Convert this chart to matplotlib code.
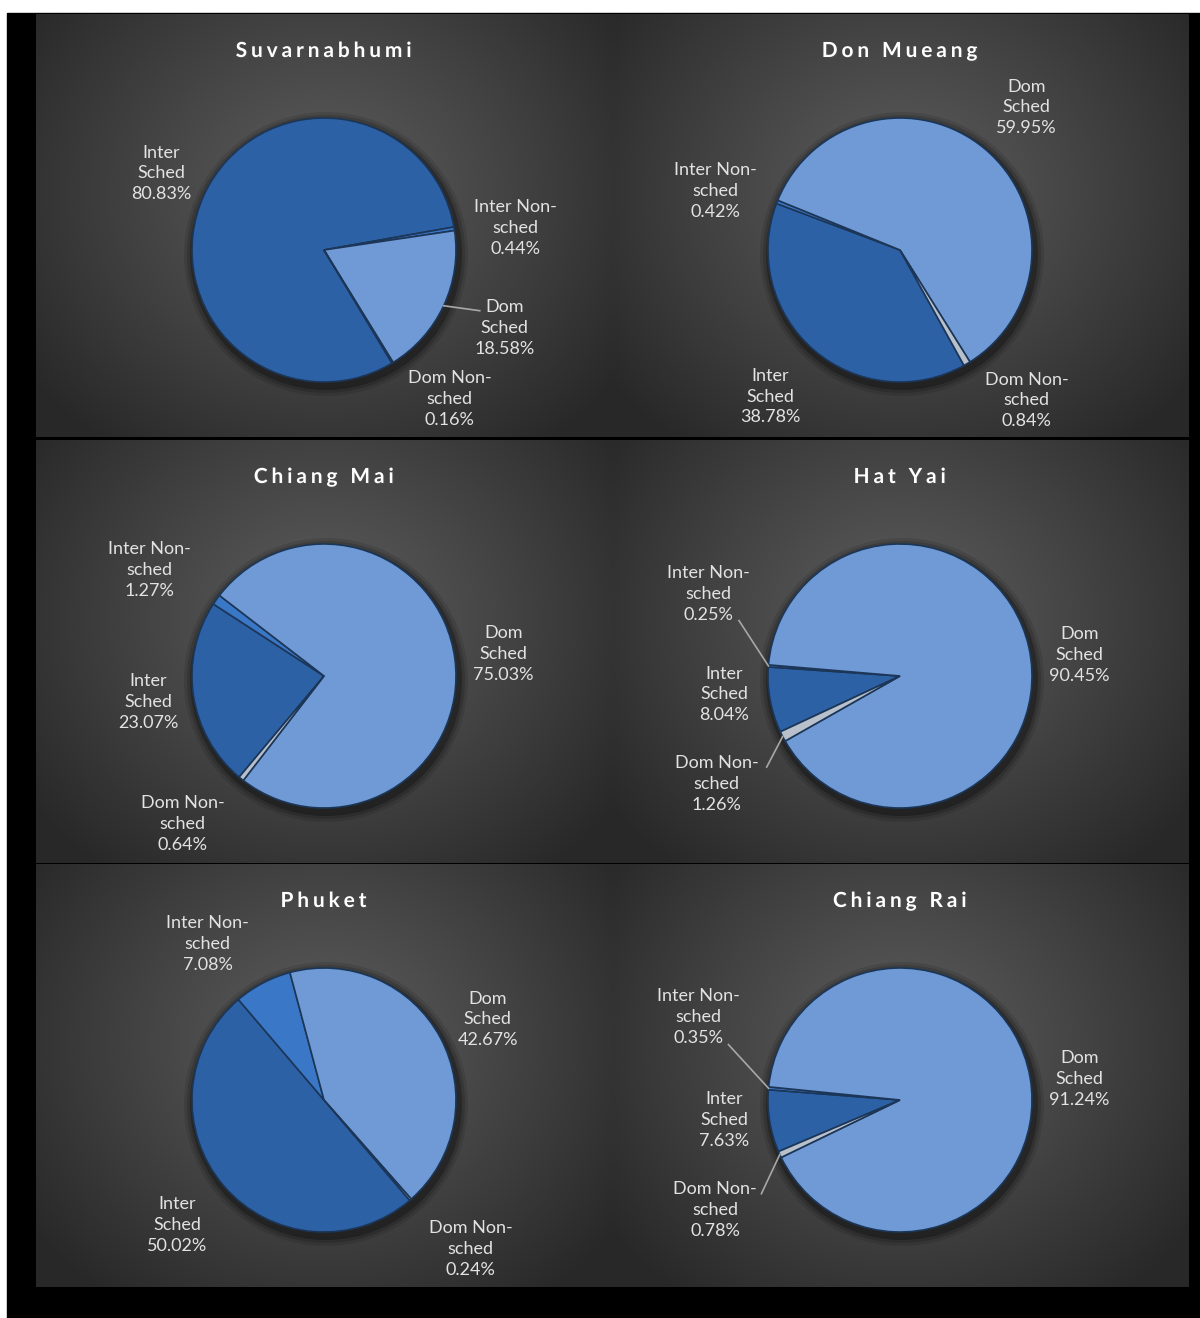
import numpy as np
import matplotlib.pyplot as plt
from matplotlib import patheffects as pe
from matplotlib.patches import Rectangle, Circle

plt.rcParams['font.family'] = ['Lato', 'DejaVu Sans']

# data (share of traffic, %)
categories = ['Inter Sched', 'Inter Non-sched', 'Dom Sched', 'Dom Non-sched']
airports = ['Suvarnabhumi', 'Don Mueang', 'Chiang Mai', 'Hat Yai', 'Phuket', 'Chiang Rai']
suvarnabhumi = [80.83, 0.44, 18.58, 0.16]
don_mueang = [38.78, 0.42, 59.95, 0.84]
chiang_mai = [23.07, 1.27, 75.03, 0.64]
hat_yai = [8.04, 0.25, 90.45, 1.26]
phuket = [50.02, 7.08, 42.67, 0.24]
chiang_rai = [7.63, 0.35, 91.24, 0.78]
shares = [suvarnabhumi, don_mueang, chiang_mai, hat_yai, phuket, chiang_rai]

label_names = ['Inter\nSched', 'Inter Non-\nsched', 'Dom\nSched', 'Dom Non-\nsched']
colors = ['#2d61a6', '#3a77c6', '#6f9ad5', '#b7c0cb']

# layout: start angle of first slice, label centres (in pie radii), leader ends
start_angles = [-59, -61, 230, 205, -49.5, 203]
label_pos = [
    [(-1.23, 0.58), (1.45, 0.17), (1.37, -0.59), (0.95, -1.13)],
    [(-0.98, -1.11), (-1.40, 0.45), (0.96, 1.08), (0.96, -1.14)],
    [(-1.33, -0.20), (-1.32, 0.80), (1.36, 0.17), (-1.07, -1.12)],
    [(-1.33, -0.14), (-1.45, 0.62), (1.36, 0.16), (-1.39, -0.82)],
    [(-1.11, -0.95), (-0.88, 1.18), (1.24, 0.61), (1.11, -1.13)],
    [(-1.33, -0.15), (-1.53, 0.63), (1.36, 0.16), (-1.40, -0.83)],
]
leaders = [
    {2: (1.18, -0.46)},
    {},
    {},
    {1: (-1.22, 0.42), 3: (-1.01, -0.69)},
    {},
    {1: (-1.30, 0.42), 3: (-1.05, -0.71)},
]

W, H = 1200, 1318
fig = plt.figure(figsize=(W / 100, H / 100), dpi=100, facecolor='white')

base = fig.add_axes([0, 0, 1, 1])
base.set_xlim(0, W)
base.set_ylim(H, 0)
base.axis('off')
base.add_patch(Rectangle((7, 13), W - 7, H - 13, color='black'))

col_x = [36, 612]
col_w = [577, 577]
row_y = [14, 440, 864]
ph = 423
R = 132


def gradient(w, h):
    yy, xx = np.mgrid[0:h, 0:w]
    d = np.sqrt(((xx - w * 0.5) / (w * 0.62)) ** 2 + ((yy - h * 0.42) / (h * 0.75)) ** 2)
    d = np.clip(d, 0, 1) ** 1.1
    c0 = np.array([0.36, 0.36, 0.36])
    c1 = np.array([0.16, 0.16, 0.16])
    return c0 + (c1 - c0) * d[..., None]


for k, name in enumerate(airports):
    x0 = col_x[k % 2]
    pw = col_w[k % 2]
    y0 = row_y[k // 2]
    ax = fig.add_axes([x0 / W, 1 - (y0 + ph) / H, pw / W, ph / H])
    ax.imshow(gradient(pw, ph), extent=(0, pw, 0, ph), origin='upper', aspect='auto', zorder=0)
    cx, cy = 288, ph - 236

    for s, a in [(10, 0.10), (7, 0.15), (4, 0.25)]:
        ax.add_patch(Circle((cx + 2, cy - 4), R + s, color='black', alpha=a, lw=0, zorder=1))

    wedges, _ = ax.pie(shares[k], colors=colors, startangle=start_angles[k], counterclock=False,
                       center=(cx, cy), radius=R, frame=True,
                       wedgeprops=dict(edgecolor='#1c3658', linewidth=1.2))
    for wd in wedges:
        wd.set_zorder(2)

    for i, (ox, oy) in enumerate(label_pos[k]):
        txt = label_names[i] + '\n' + f'{shares[k][i]:.2f}%'
        ax.text(cx + ox * R, cy + oy * R, txt, ha='center', va='center', fontsize=13,
                color='#e2e2e2', linespacing=1.38, zorder=4)

    for i, (lx, ly) in leaders[k].items():
        w = wedges[i]
        mid = np.deg2rad((w.theta1 + w.theta2) / 2)
        ax.plot([cx + R * np.cos(mid), cx + lx * R], [cy + R * np.sin(mid), cy + ly * R],
                color='#a8a8a8', lw=1.2, zorder=3)

    title = '\u2009\u200a'.join(name)
    ax.text(pw / 2 - 1, ph - 37, title, ha='center', va='center', fontsize=15, weight='bold',
            color='white', path_effects=[pe.withSimplePatchShadow(offset=(1, -1), alpha=0.8)], zorder=5)

    ax.set_xlim(0, pw)
    ax.set_ylim(0, ph)
    ax.set_aspect('auto')
    ax.axis('off')

fig.savefig('out.png', dpi=100, facecolor='white')
